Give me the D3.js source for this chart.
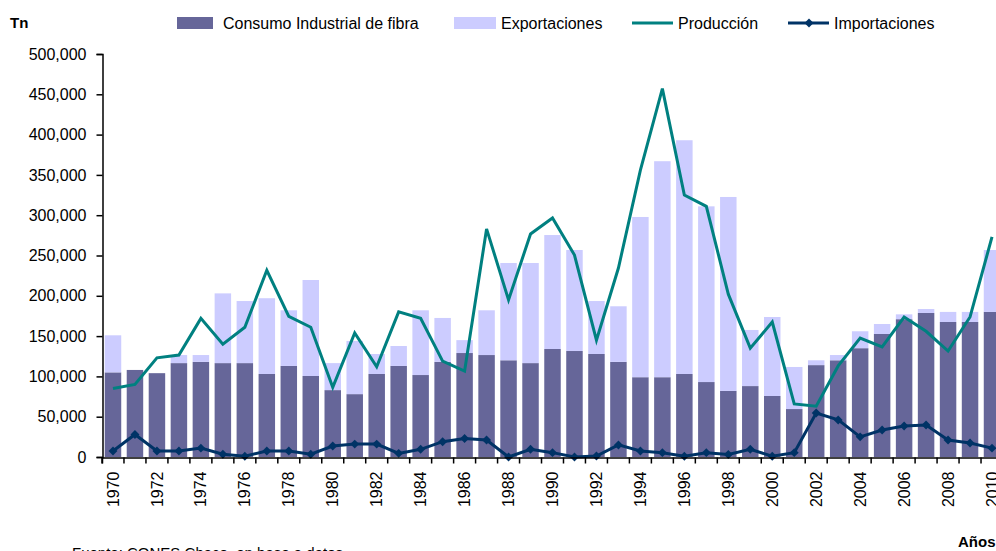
<!DOCTYPE html>
<html>
<head>
<meta charset="utf-8">
<script src="https://cdn.jsdelivr.net/npm/d3@7"></script>
<style>
  body { margin: 0; background: #fff; }
  svg { display: block; font-family: "Liberation Sans", Arial, sans-serif; }
</style>
</head>
<body>
<div id="chart"></div>
<script>
// years 1970 - 2010
const years = d3.range(1970, 2011).map(String);

// toneladas
const consumo = [105000, 108000, 104000, 116500, 118000, 116500, 116500, 103000, 113000, 100500,
  83000, 78000, 103000, 113000, 101700, 118000, 129000, 126500, 120000, 116500,
  134000, 131500, 127800, 118000, 99000, 99000, 103000, 93000, 82000, 88000,
  75700, 59500, 114000, 120000, 135000, 152600, 171000, 178700, 167500, 167500, 180000];

const exportaciones = [46000, 0, 0, 10000, 8500, 86500, 77000, 94000, 69000, 119100,
  33500, 66000, 24800, 24700, 80300, 54500, 16000, 55500, 120700, 124200,
  141400, 125300, 65700, 69000, 198800, 268000, 290000, 218000, 240600, 69600,
  98000, 52200, 6000, 6500, 21000, 12400, 6000, 4900, 12500, 12500, 76800];

const produccion = [85000, 90000, 123000, 126500, 172000, 140000, 161000, 231600, 174500, 161000,
  86500, 154000, 112000, 180000, 172000, 119000, 106700, 283000, 195000, 276700,
  296500, 250600, 145000, 234500, 356000, 457000, 325000, 311000, 202000, 135000,
  167500, 65800, 63000, 113000, 147600, 136500, 173700, 156000, 131500, 173700, 273000];

const importaciones = [7500, 28000, 7500, 7500, 11000, 3500, 1000, 7500, 7500, 3500,
  13600, 16000, 16000, 4500, 9500, 19000, 23000, 21000, 0, 9500,
  5400, 0, 1200, 15000, 7500, 5400, 1000, 5400, 3000, 9500,
  1000, 5400, 54600, 46000, 25000, 33500, 38500, 39700, 21000, 17400, 11000];

const yTicks = d3.range(0, 500001, 50000);

const width = 996, height = 551;
const cDark = "#666699", cLight = "#ccccff", cProd = "#008080", cImp = "#003366";

const svg = d3.select("#chart").append("svg")
  .attr("width", width)
  .attr("height", height);

const x = d3.scaleBand()
  .domain(years)
  .range([102, 1003])
  .paddingInner(0.25)
  .paddingOuter(0.125);

const y = d3.scaleLinear()
  .domain([0, 500000])
  .range([457, 54]);

const step = x.step();

// stacked bars
const table = years.map((yr, i) => ({ year: yr, consumo: consumo[i], exportaciones: exportaciones[i] }));
const stack = d3.stack().keys(["consumo", "exportaciones"])(table);
const barColor = { consumo: cDark, exportaciones: cLight };

svg.append("g")
  .selectAll("g")
  .data(stack)
  .join("g")
  .attr("fill", d => barColor[d.key])
  .selectAll("rect")
  .data(d => d)
  .join("rect")
  .attr("x", d => x(d.data.year))
  .attr("y", d => y(d[1]))
  .attr("width", x.bandwidth())
  .attr("height", d => y(d[0]) - y(d[1]));

const cx = yr => x(yr) + x.bandwidth() / 2;

// Producción line
svg.append("path")
  .datum(produccion)
  .attr("fill", "none")
  .attr("stroke", cProd)
  .attr("stroke-width", 3)
  .attr("stroke-linejoin", "miter")
  .attr("d", d3.line().x((d, i) => cx(years[i])).y(d => y(d)));

// Importaciones line + markers
svg.append("path")
  .datum(importaciones)
  .attr("fill", "none")
  .attr("stroke", cImp)
  .attr("stroke-width", 3)
  .attr("d", d3.line().x((d, i) => cx(years[i])).y(d => y(d)));

const diamond = d3.symbol().type(d3.symbolSquare).size(40);
svg.append("g")
  .selectAll("path")
  .data(importaciones)
  .join("path")
  .attr("d", diamond)
  .attr("fill", cImp)
  .attr("transform", (d, i) => `translate(${cx(years[i])},${y(d)}) rotate(45)`);

// Y axis
const yAxis = svg.append("g")
  .attr("transform", "translate(102.5,0)")
  .call(d3.axisLeft(y).tickValues(yTicks).tickFormat(d3.format(",")).tickSize(6).tickPadding(10));
yAxis.select(".domain").attr("stroke", "#000").attr("stroke-width", 1.5);
yAxis.selectAll(".tick line").attr("stroke", "#000").attr("stroke-width", 1.5);
yAxis.selectAll("text").attr("font-size", 16).attr("fill", "#000");

// X axis
const xAxis = svg.append("g")
  .attr("transform", "translate(0,457.5)")
  .call(d3.axisBottom(x).tickSizeOuter(0).tickSize(6)
    .tickFormat(d => (+d % 2 === 0 ? d : "")));
xAxis.select(".domain").attr("stroke", "#000").attr("stroke-width", 1.5);
xAxis.selectAll(".tick line")
  .attr("stroke", "#000")
  .attr("stroke-width", 1.5)
  .attr("x1", -step / 2)
  .attr("x2", -step / 2);
xAxis.selectAll(".tick text")
  .attr("font-size", 16)
  .attr("fill", "#000")
  .attr("text-anchor", "end")
  .attr("transform", "rotate(-90)")
  .attr("x", -14)
  .attr("y", 0)
  .attr("dy", "0.35em");

// axis titles
svg.append("text").attr("x", 10).attr("y", 28)
  .attr("font-size", 15).attr("font-weight", "bold").text("Tn");
svg.append("text").attr("x", 958).attr("y", 547)
  .attr("font-size", 15).attr("font-weight", "bold").text("Años");

// source
svg.append("text").attr("x", 72).attr("y", 558)
  .attr("font-size", 15).text("Fuente: CONES Chaco, en base a datos");

// legend
const legend = svg.append("g").attr("font-size", 16);
legend.append("rect").attr("x", 177).attr("y", 17).attr("width", 36).attr("height", 12).attr("fill", cDark);
legend.append("text").attr("x", 223).attr("y", 29).text("Consumo Industrial de fibra");
legend.append("rect").attr("x", 454).attr("y", 17).attr("width", 42).attr("height", 12).attr("fill", cLight);
legend.append("text").attr("x", 501).attr("y", 29).text("Exportaciones");
legend.append("line").attr("x1", 632).attr("x2", 673).attr("y1", 23).attr("y2", 23)
  .attr("stroke", cProd).attr("stroke-width", 3);
legend.append("text").attr("x", 678).attr("y", 29).text("Producción");
legend.append("line").attr("x1", 788).attr("x2", 829).attr("y1", 23).attr("y2", 23)
  .attr("stroke", cImp).attr("stroke-width", 3);
legend.append("path").attr("d", diamond).attr("fill", cImp)
  .attr("transform", "translate(809,23) rotate(45)");
legend.append("text").attr("x", 834).attr("y", 29).text("Importaciones");
</script>
</body>
</html>
